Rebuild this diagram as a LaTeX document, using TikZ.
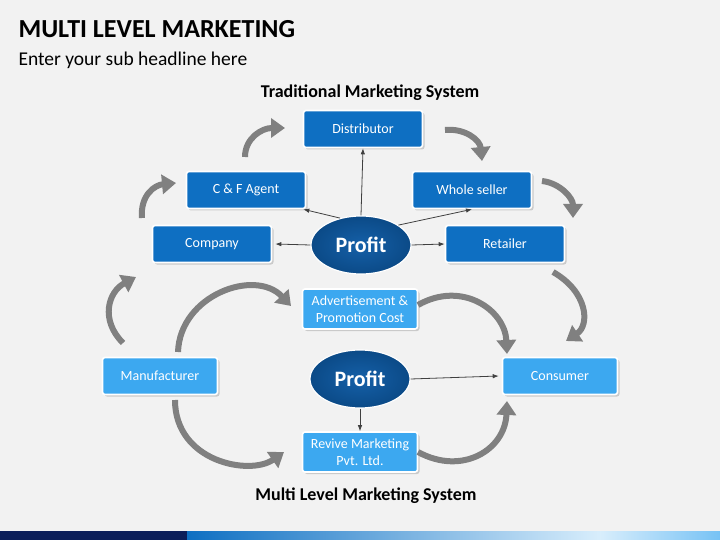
\documentclass[tikz,border=0pt]{standalone}
\usepackage{fontspec}
\setmainfont{Carlito}
\usetikzlibrary{arrows.meta,shadows,shapes.geometric}
\definecolor{bg}{HTML}{F2F2F2}
\definecolor{darkbox}{HTML}{0E6FC2}
\definecolor{lightbox}{HTML}{3CA8F0}
\definecolor{navy}{HTML}{0B4A87}
\definecolor{navyin}{HTML}{1560A8}
\definecolor{arrowgray}{HTML}{808080}
\definecolor{barnavy}{HTML}{0B1E5A}
\tikzset{
  boxbase/.style={draw=white, line width=1.6pt, rounded corners=2.5pt, text=white,
    minimum height=37pt, align=center, inner sep=2pt,
    font=\fontsize{14}{16}\selectfont,
    drop shadow={opacity=0.35, shadow xshift=2pt, shadow yshift=-2pt}},
  darkbox/.style={boxbase, fill=darkbox, minimum width=119pt},
  lightbox/.style={boxbase, fill=lightbox, minimum width=115pt},
  profitnode/.style={ellipse, draw=white, line width=1.2pt, inner color=navyin, outer color=navy,
    text=white, font=\bfseries\fontsize{22}{24}\selectfont, minimum width=100pt, minimum height=58pt},
  garrow/.style={draw=arrowgray, line width=6pt, -{Triangle[width=19pt,length=14pt]}},
  tarrow/.style={draw=black!75, line width=0.8pt, -{Latex[length=6pt,width=4.5pt]}},
}
\begin{document}
\begin{tikzpicture}[x=1pt,y=-1pt]
\fill[bg] (0,0) rectangle (720,540);
\useasboundingbox (0,0) rectangle (720,540);
% bottom bar
\shade[left color=darkbox, right color=white!80!lightbox] (187,531) rectangle (600,540);
\shade[left color=white!80!lightbox, right color=lightbox!70] (600,531) rectangle (720,540);
\fill[barnavy] (0,531) rectangle (187,540);
% titles
\node[anchor=west, font=\bfseries\fontsize{26}{29}\selectfont] (title) at (15,29) {MULTI LEVEL MARKETING};
\node[anchor=west, font=\fontsize{19.5}{22}\selectfont] (sub) at (15,60) {Enter your sub headline here};
\node[font=\bfseries\fontsize{18}{20}\selectfont] (trad) at (370,93) {Traditional Marketing System};
\node[font=\bfseries\fontsize{18}{20}\selectfont] (mlm) at (366,496) {Multi Level Marketing System};
% top nodes
\node[darkbox] (dist) at (363,129) {Distributor};
\node[darkbox] (cf) at (246,190) {C \& F Agent};
\node[darkbox] (ws) at (472,190) {Whole seller};
\node[darkbox] (comp) at (212,244) {Company};
\node[darkbox] (ret) at (505,244) {Retailer};
\node[profitnode] (p1) at (361,245) {Profit};
% bottom nodes
\node[lightbox, minimum height=40pt] (adv) at (360,309) {Advertisement \&\\[1pt] Promotion Cost};
\node[lightbox] (man) at (160,376) {Manufacturer};
\node[lightbox] (cons) at (560,376) {Consumer};
\node[lightbox, minimum height=40pt] (rev) at (360,452) {Revive Marketing\\[1pt] Pvt. Ltd.};
\node[profitnode] (p2) at (360,379) {Profit};
% thin arrows
\draw[tarrow] (p1.north) -- (dist.south);
\draw[tarrow] (p1.128) -- ([xshift=-3pt]cf.south east);
\draw[tarrow] (p1.28) -- (ws.south);
\draw[tarrow] (p1.west) -- ([xshift=3pt]comp.east);
\draw[tarrow] (p1.east) -- (ret.west);
\draw[tarrow] (p2.east) -- ([xshift=-3pt]cons.west);
\draw[tarrow] (p2.south) -- (rev.north);
% gray curved arrows
\coordinate (a1s) at (142,218); \coordinate (a1e) at (176,183);
\coordinate (a2s) at (245,157); \coordinate (a2e) at (285,128);
\coordinate (a3s) at (445,130); \coordinate (a3e) at (482,161);
\coordinate (a4s) at (542,181); \coordinate (a4e) at (573,218);
\coordinate (a5s) at (553,272); \coordinate (a5e) at (566,341);
\coordinate (a6s) at (123,343); \coordinate (a6e) at (136,277);
\coordinate (a7s) at (178,352); \coordinate (a7e) at (291,306);
\coordinate (a8s) at (418,305); \coordinate (a8e) at (507,354);
\coordinate (a9s) at (175,400); \coordinate (a9e) at (284,452);
\coordinate (a10s) at (418,452); \coordinate (a10e) at (507,401);
\draw[garrow] (a1s) .. controls (140,195) and (155,185) .. (a1e);
\draw[garrow] (a2s) .. controls (245,138) and (262,128) .. (a2e);
\draw[garrow] (a3s) .. controls (465,128) and (480,140) .. (a3e);
\draw[garrow] (a4s) .. controls (560,183) and (573,198) .. (a4e);
\draw[garrow] (a5s) .. controls (588,292) and (590,325) .. (a5e);
\draw[garrow] (a6s) .. controls (100,320) and (108,292) .. (a6e);
\draw[garrow] (a7s) .. controls (180,295) and (255,268) .. (a7e);
\draw[garrow] (a8s) .. controls (462,280) and (505,310) .. (a8e);
\draw[garrow] (a9s) .. controls (175,462) and (250,476) .. (a9e);
\draw[garrow] (a10s) .. controls (462,476) and (505,450) .. (a10e);
\end{tikzpicture}
\end{document}
